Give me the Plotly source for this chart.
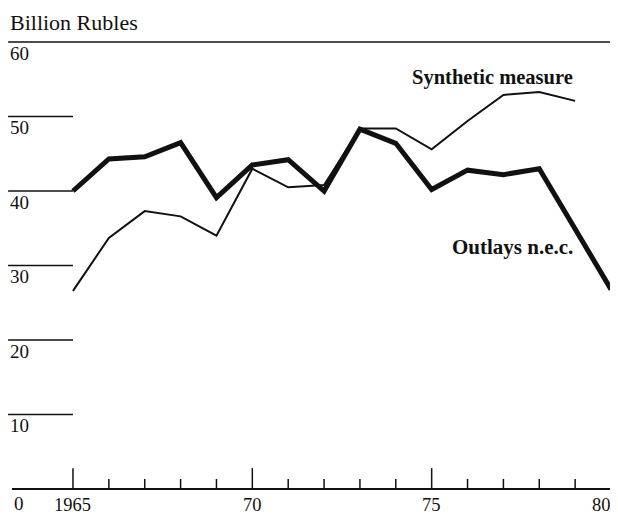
import plotly.graph_objects as go

years = list(range(1965, 1981))
outlays = [40.0, 44.3, 44.6, 46.5, 39.1, 43.5, 44.2, 40.0, 48.3, 46.4, 40.2, 42.8, 42.2, 43.0, 34.9, 26.8]
synthetic = [26.6, 33.7, 37.3, 36.6, 34.0, 43.0, 40.5, 40.8, 48.4, 48.4, 45.6, 49.4, 52.9, 53.3, 52.1, None]

y_ticks = [0, 10, 20, 30, 40, 50, 60]
x_major = [1965, 1970, 1975, 1980]
x_labels = ["1965", "70", "75", "80."]

FONT = "Liberation Serif, Times New Roman, serif"
INK = "#111111"

fig = go.Figure()
fig.add_trace(go.Scatter(x=years, y=synthetic, mode="lines",
                         line=dict(color=INK, width=2), hoverinfo="skip"))
fig.add_trace(go.Scatter(x=years, y=outlays, mode="lines",
                         line=dict(color=INK, width=5), hoverinfo="skip"))

shapes = []
left_x = 1963.19
# gridlines: short stubs on the left, full rule at the top
for v in y_ticks[1:]:
    x1 = 1979.97 if v == 60 else 1965.0
    shapes.append(dict(type="line", xref="x", yref="y", x0=left_x, x1=x1, y0=v, y1=v,
                       line=dict(color=INK, width=1.5)))
# baseline
shapes.append(dict(type="line", xref="x", yref="y", x0=1963.3, x1=1980.0, y0=0, y1=0,
                   line=dict(color=INK, width=2)))
# upward ticks
for yr in years:
    h = 2.8 if yr in x_major else 1.35
    shapes.append(dict(type="line", xref="x", yref="y", x0=yr, x1=yr, y0=0, y1=h,
                       line=dict(color=INK, width=1.5)))

ann = []
for v in y_ticks[1:]:
    ann.append(dict(x=1963.2, y=v + 0.15, text=str(v), showarrow=False,
                    xanchor="left", yanchor="top", font=dict(size=19)))
ann.append(dict(x=1963.3, y=-0.3, text="0", showarrow=False,
                xanchor="left", yanchor="top", font=dict(size=19)))
for yr, lab in zip(x_major, x_labels):
    xx = yr if yr != 1980 else 1979.78
    ann.append(dict(x=xx, y=-2.1, text=lab, showarrow=False,
                    xanchor="center", yanchor="middle", font=dict(size=18.5)))
ann.append(dict(x=1963.2, y=64.55, text="Billion Rubles", showarrow=False,
                xanchor="left", yanchor="top", font=dict(size=22)))
ann.append(dict(x=1976.7, y=55.3, text="<b>Synthetic measure</b>", showarrow=False,
                xanchor="center", yanchor="middle", font=dict(size=20.5)))
ann.append(dict(x=1977.25, y=32.5, text="<b>Outlays n.e.c.</b>", showarrow=False,
                xanchor="center", yanchor="middle", font=dict(size=21)))

# the page body adds an 8px offset, so the figure is 8px smaller and the
# ranges start 8px in from the reference's corner
fig.update_layout(
    width=610, height=507,
    margin=dict(l=0, r=0, t=0, b=0),
    paper_bgcolor="white", plot_bgcolor="white",
    font=dict(family=FONT, color=INK),
    showlegend=False,
    shapes=shapes, annotations=ann,
    xaxis=dict(range=[1963.188, 1980.195], visible=False, fixedrange=True),
    yaxis=dict(range=[-3.49, 64.566], visible=False, fixedrange=True),
)

fig.write_html("out.html", config={"displayModeBar": False})
